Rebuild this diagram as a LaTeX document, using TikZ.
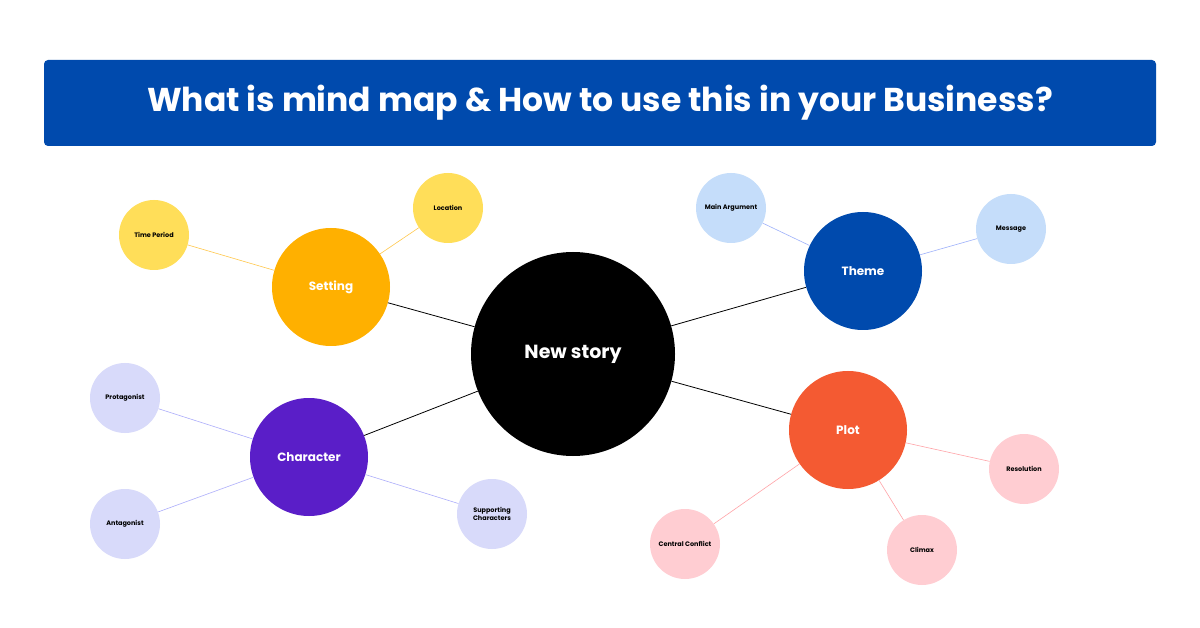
\documentclass[tikz,border=0pt]{standalone}
\usepackage{fontspec}
\setmainfont{Poppins}
\definecolor{banner}{RGB}{0,74,173}
\definecolor{setc}{RGB}{255,176,0}
\definecolor{setl}{RGB}{255,222,89}
\definecolor{themec}{RGB}{0,74,173}
\definecolor{themel}{RGB}{197,221,250}
\definecolor{charc}{RGB}{90,30,200}
\definecolor{charl}{RGB}{216,218,250}
\definecolor{plotc}{RGB}{244,90,50}
\definecolor{plotl}{RGB}{255,205,210}
\begin{document}
\begin{tikzpicture}[x=1pt,y=-1pt,
  big/.style={circle,fill=black,minimum size=204pt,inner sep=0pt,text=white,font=\fontsize{19}{22}\selectfont\bfseries},
  mid/.style={circle,minimum size=118pt,inner sep=0pt,text=white,font=\fontsize{12}{14}\selectfont\bfseries},
  leaf/.style={circle,minimum size=70pt,inner sep=0pt,text=black,align=center,font=\fontsize{6.5}{8}\selectfont\bfseries}]
\useasboundingbox (0,0) rectangle (1200,628);
\fill[white] (0,0) rectangle (1200,628);
\node[fill=banner,rounded corners=4pt,minimum width=1112pt,minimum height=86pt,inner sep=0pt,text=white,font=\fontsize{33}{38}\selectfont\bfseries] (title) at (600,103) {What is mind map \& How to use this in your Business?};
\node[big] (c) at (573,354) {New story};
\node[mid,fill=setc] (set) at (331,287) {Setting};
\node[mid,fill=themec] (th) at (863,271) {Theme};
\node[mid,fill=charc] (ch) at (309,457) {Character};
\node[mid,fill=plotc] (pl) at (848,430) {Plot};
\node[leaf,fill=setl] (tp) at (154,235) {Time Period};
\node[leaf,fill=setl] (lo) at (448,208) {Location};
\node[leaf,fill=themel] (ma) at (731,208) {Main Argument};
\node[leaf,fill=themel] (me) at (1011,229) {Message};
\node[leaf,fill=charl] (pr) at (125,398) {Protagonist};
\node[leaf,fill=charl] (an) at (125,524) {Antagonist};
\node[leaf,fill=charl] (sc) at (492,514) {Supporting\\Characters};
\node[leaf,fill=plotl] (re) at (1024,469) {Resolution};
\node[leaf,fill=plotl] (cl) at (922,550) {Climax};
\node[leaf,fill=plotl] (cc) at (685,544) {Central Conflict};
\draw[black,line width=0.8pt] (c) -- (set);
\draw[black,line width=0.8pt] (c) -- (th);
\draw[black,line width=0.8pt] (c) -- (ch);
\draw[black,line width=0.8pt] (c) -- (pl);
\draw[setc!70,line width=0.6pt] (set) -- (tp);
\draw[setc!70,line width=0.6pt] (set) -- (lo);
\draw[themel!80!blue,line width=0.6pt] (th) -- (ma);
\draw[themel!80!blue,line width=0.6pt] (th) -- (me);
\draw[charl!80!blue,line width=0.6pt] (ch) -- (pr);
\draw[charl!80!blue,line width=0.6pt] (ch) -- (an);
\draw[charl!80!blue,line width=0.6pt] (ch) -- (sc);
\draw[plotl!80!red,line width=0.6pt] (pl) -- (re);
\draw[plotl!80!red,line width=0.6pt] (pl) -- (cl);
\draw[plotl!80!red,line width=0.6pt] (pl) -- (cc);
\end{tikzpicture}
\end{document}
